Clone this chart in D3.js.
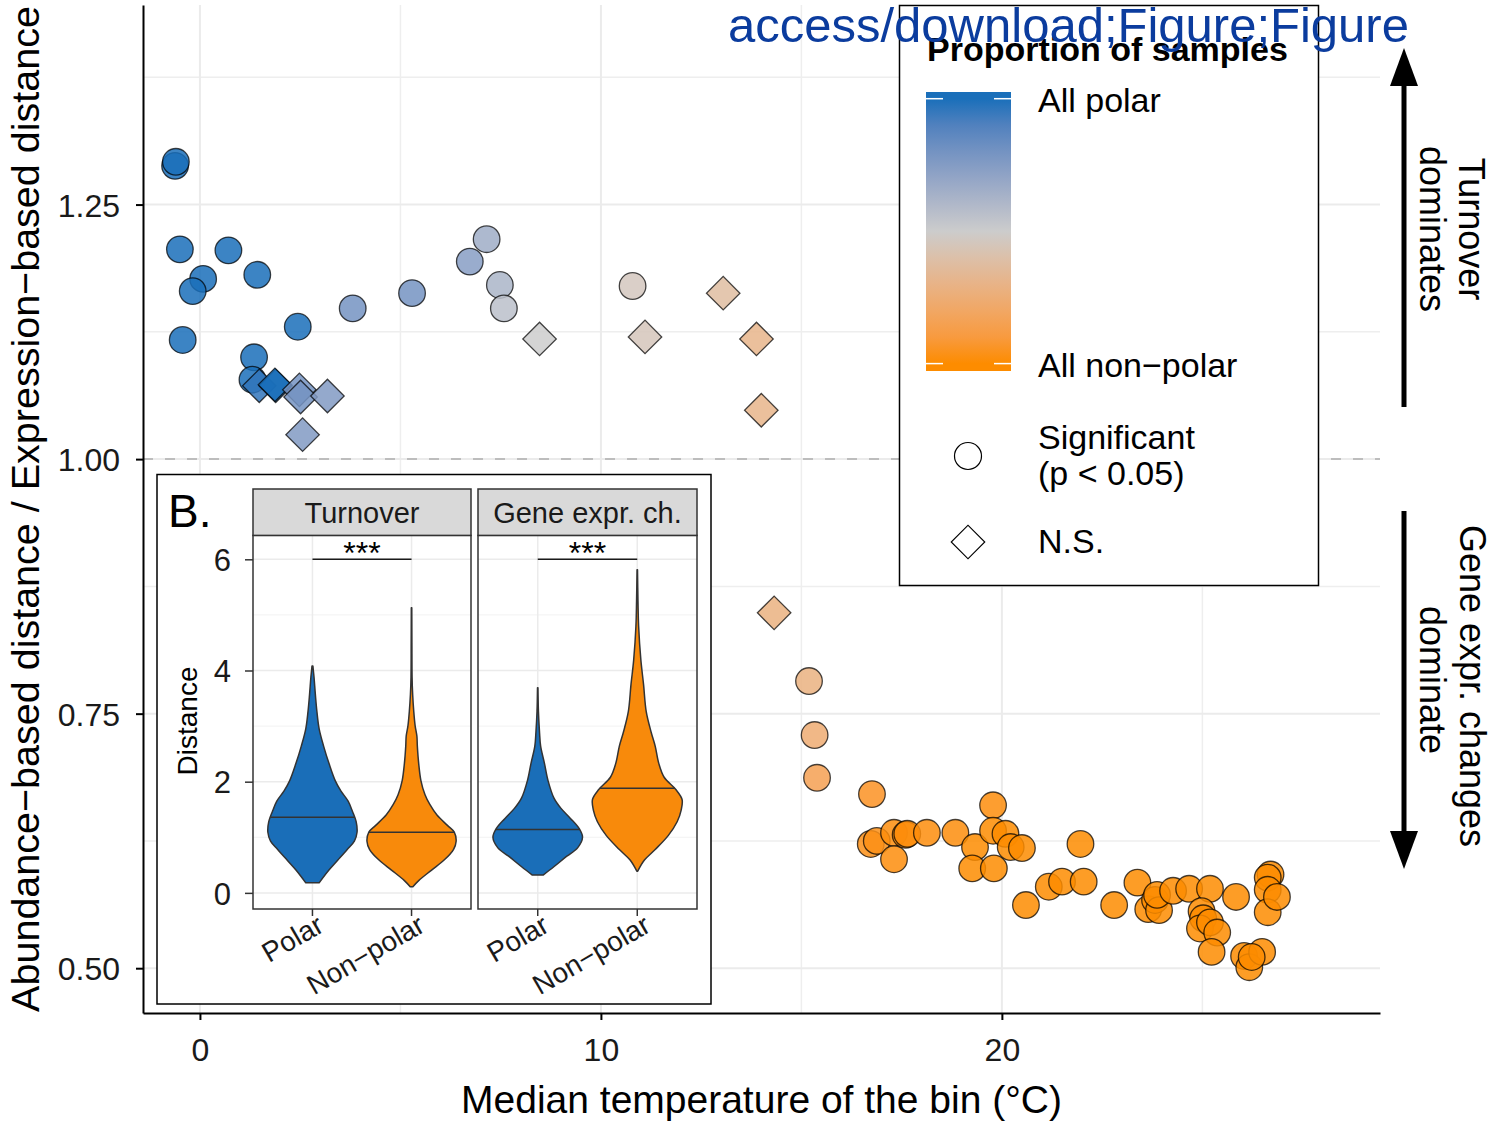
<!DOCTYPE html>
<html>
<head>
<meta charset="utf-8">
<script src="https://cdn.jsdelivr.net/npm/d3@7"></script>
<style>
  body { margin: 0; background: #fff; }
  svg { display: block; }
  text { font-family: "Liberation Sans", Arial, Helvetica, sans-serif; }
</style>
</head>
<body>
<svg id="chart" width="1501" height="1126"></svg>
<script>
// ---- Main panel: one point per temperature bin ----
const temperature = [
  -0.62, -0.60, -0.50, 0.71, 1.43, 0.08, -0.18, -0.43, 2.44, 1.35, 1.31,
  1.48, 1.89, 1.87, 2.48, 2.51, 3.18, 2.56,
  3.81, 5.29, 7.15, 6.73, 7.48, 7.58, 8.47, 10.79, 13.05, 11.10, 13.88, 14.00, 14.32,
  15.19, 15.33, 15.39, 16.76,
  16.73, 16.88, 17.31, 17.31, 17.60, 17.64, 18.13, 18.84, 19.33, 19.26, 19.78, 19.78,
  19.80, 20.09, 20.22, 20.50, 21.96, 20.60, 21.17, 21.50, 22.04, 22.80, 23.38, 23.65,
  23.82, 23.92, 23.87, 24.27, 24.67, 25.19, 25.84, 24.98, 25.02, 24.94, 25.19, 25.37,
  25.23, 26.04, 26.17, 26.49, 26.23, 26.70, 26.63, 26.63, 26.63, 26.86
];
const distanceRatio = [
  1.288, 1.292, 1.206, 1.205, 1.181, 1.177, 1.165, 1.117, 1.130, 1.100, 1.078,
  1.072, 1.072, 1.073, 1.068, 1.061, 1.062, 1.024,
  1.148, 1.163, 1.216, 1.194, 1.171, 1.148, 1.118, 1.170, 1.163, 1.120, 1.118, 1.048, 0.849,
  0.782, 0.729, 0.687, 0.671,
  0.622, 0.625, 0.633, 0.607, 0.631, 0.632, 0.633, 0.633, 0.619, 0.598, 0.660, 0.635,
  0.598, 0.632, 0.619, 0.618, 0.622, 0.562, 0.580, 0.585, 0.585, 0.562, 0.584, 0.558,
  0.567, 0.557, 0.572, 0.576, 0.578, 0.578, 0.570, 0.556, 0.549, 0.539, 0.545, 0.535,
  0.516, 0.512, 0.501, 0.516, 0.511, 0.592, 0.589, 0.577, 0.555, 0.570
];
// share of polar samples in each bin (1 = all polar, 0 = all non-polar)
const polarFraction = [
  1.00, 1.00, 1.00, 1.00, 1.00, 1.00, 1.00, 1.00, 1.00, 1.00, 1.00,
  0.97, 1.00, 1.00, 0.80, 0.80, 0.76, 0.76,
  0.80, 0.80, 0.66, 0.74, 0.62, 0.56, 0.50, 0.46, 0.375, 0.45, 0.31, 0.31, 0.28,
  0.28, 0.24, 0.15, 0.04,
  0.02, 0.02, 0.01, 0.01, 0.01, 0.01, 0.01, 0.01, 0.00, 0.00, 0.01, 0.00,
  0.00, 0.00, 0.00, 0.00, 0.00, 0.00, 0.00, 0.00, 0.00, 0.00, 0.00, 0.00,
  0.00, 0.00, 0.00, 0.00, 0.00, 0.00, 0.00, 0.00, 0.00, 0.00, 0.00, 0.00,
  0.00, 0.00, 0.00, 0.00, 0.00, 0.00, 0.00, 0.00, 0.00, 0.00
];
// true = significant (p < 0.05), false = N.S.
const significant = [
  true, true, true, true, true, true, true, true, true, true, true,
  false, false, false, false, false, false, false,
  true, true, true, true, true, true, false, true, false, false, false, false, false,
  true, true, true, true,
  true, true, true, true, true, true, true, true, true, true, true, true,
  true, true, true, true, true, true, true, true, true, true, true, true,
  true, true, true, true, true, true, true, true, true, true, true, true,
  true, true, true, true, true, true, true, true, true, true
];
const xTicks = [0, 10, 20];
const xMinor = [5, 15, 25];
const yTicks = [0.50, 0.75, 1.00, 1.25];
const yMinor = [0.625, 0.875, 1.125, 1.375];

// ---- Inset: violin profiles as [distance, relative width] ----
const groups = ["Polar", "Non\u2212polar"];
const facets = ["Turnover", "Gene expr. ch."];
const turnoverPolar = [
  [0.18, 0.15], [0.41, 0.37], [0.59, 0.57], [0.78, 0.78], [0.93, 0.94], [1.09, 1.00],
  [1.28, 0.98], [1.46, 0.90], [1.65, 0.80], [1.83, 0.64], [2.02, 0.51], [2.33, 0.37],
  [2.64, 0.25], [2.95, 0.15], [3.26, 0.10], [3.57, 0.065], [3.88, 0.035], [4.08, 0.01]
];
const turnoverNonPolar = [
  [0.11, 0.03], [0.22, 0.16], [0.41, 0.45], [0.59, 0.73], [0.78, 0.94], [0.93, 1.00],
  [1.09, 0.96], [1.21, 0.81], [1.40, 0.57], [1.59, 0.41], [1.77, 0.30], [2.02, 0.21],
  [2.33, 0.16], [2.64, 0.13], [2.82, 0.12], [3.01, 0.08], [3.26, 0.05], [3.57, 0.025],
  [3.88, 0.012], [4.50, 0.008], [5.13, 0.005]
];
const genePolar = [
  [0.32, 0.12], [0.47, 0.36], [0.66, 0.65], [0.81, 0.89], [1.00, 1.00], [1.15, 0.93],
  [1.34, 0.73], [1.52, 0.52], [1.71, 0.36], [2.02, 0.23], [2.33, 0.15], [2.64, 0.065],
  [2.89, 0.04], [3.26, 0.016], [3.69, 0.005]
];
const geneNonPolar = [
  [0.39, 0.01], [0.59, 0.16], [0.78, 0.40], [1.03, 0.69], [1.28, 0.89], [1.49, 0.98],
  [1.68, 1.00], [1.86, 0.86], [2.08, 0.60], [2.33, 0.48], [2.64, 0.40], [2.89, 0.31],
  [3.26, 0.20], [3.75, 0.14], [4.19, 0.08], [4.80, 0.03], [5.24, 0.016], [5.81, 0.005]
];
const medians = [[1.36, 1.09], [1.14, 1.88]];
const insetTicks = [0, 2, 4, 6];
const insetMinor = [1, 3, 5];
const sigLevel = 6.0;

// ---- Drawing ----
const svg = d3.select("#chart");
const plot = { left: 143, right: 1380, top: 5, bottom: 1013 };
const x = d3.scaleLinear().domain([-1.42, 29.43]).range([plot.left, plot.right]);
const y = d3.scaleLinear().domain([0.456, 1.446]).range([plot.bottom, plot.top]);
const colour = d3.scaleLinear().domain([0, 0.5, 1]).range(["#fd8c00", "#cccccc", "#1a6fba"])
  .interpolate(d3.interpolateLab);

// grid
const grid = svg.append("g");
grid.selectAll(".gxm").data(xMinor).join("line")
  .attr("x1", d => x(d)).attr("x2", d => x(d)).attr("y1", plot.top).attr("y2", plot.bottom)
  .attr("stroke", "#eeeeee").attr("stroke-width", 1.5);
grid.selectAll(".gym").data(yMinor).join("line")
  .attr("x1", plot.left).attr("x2", plot.right).attr("y1", d => y(d)).attr("y2", d => y(d))
  .attr("stroke", "#eeeeee").attr("stroke-width", 1.5);
grid.selectAll(".gx").data(xTicks).join("line")
  .attr("x1", d => x(d)).attr("x2", d => x(d)).attr("y1", plot.top).attr("y2", plot.bottom)
  .attr("stroke", "#ebebeb").attr("stroke-width", 2);
grid.selectAll(".gy").data(yTicks).join("line")
  .attr("x1", plot.left).attr("x2", plot.right).attr("y1", d => y(d)).attr("y2", d => y(d))
  .attr("stroke", "#ebebeb").attr("stroke-width", 2);

// reference line at ratio = 1
svg.append("line")
  .attr("x1", plot.left).attr("x2", plot.right).attr("y1", y(1)).attr("y2", y(1))
  .attr("stroke", "#bdbdbd").attr("stroke-width", 2).attr("stroke-dasharray", "10,12");

// points
const pts = temperature.map((t, i) => ({ t, r: distanceRatio[i], f: polarFraction[i], s: significant[i] }));
const diamond = d3.symbol().type(d3.symbolSquare).size(560);
const ptG = svg.append("g");
pts.forEach(d => {
  const common = sel => sel.attr("fill", colour(d.f)).attr("fill-opacity", 0.85)
    .attr("stroke", "#000").attr("stroke-opacity", 0.72).attr("stroke-width", 1.3);
  if (d.s) {
    ptG.append("circle").attr("cx", x(d.t)).attr("cy", y(d.r)).attr("r", 13.3).call(common);
  } else {
    ptG.append("path").attr("d", diamond())
      .attr("transform", `translate(${x(d.t)},${y(d.r)}) rotate(45)`).call(common);
  }
});

// axes
const axFont = 32;
const yAxis = svg.append("g").attr("transform", `translate(${plot.left},0)`)
  .call(d3.axisLeft(y).tickValues(yTicks).tickFormat(d3.format(".2f")).tickSize(7).tickSizeOuter(0).tickPadding(16));
const xAxis = svg.append("g").attr("transform", `translate(0,${plot.bottom})`)
  .call(d3.axisBottom(x).tickValues(xTicks).tickFormat(d3.format("d")).tickSize(7).tickSizeOuter(0).tickPadding(18));
[yAxis, xAxis].forEach(a => {
  a.select(".domain").attr("stroke", "#000").attr("stroke-width", 2);
  a.selectAll(".tick line").attr("stroke", "#000").attr("stroke-width", 2);
  a.selectAll(".tick text").attr("font-size", axFont).attr("fill", "#1a1a1a")
    .style("font-family", '"Liberation Sans", Arial, sans-serif');
});
yAxis.selectAll(".tick text").attr("dy", "0.36em");

svg.append("text").attr("x", (plot.left + plot.right) / 2).attr("y", 1113)
  .attr("text-anchor", "middle").attr("font-size", 39).attr("fill", "#000")
  .text("Median temperature of the bin (\u00B0C)");
svg.append("text").attr("transform", "translate(39,509) rotate(-90)")
  .attr("text-anchor", "middle").attr("font-size", 39.5).attr("fill", "#000")
  .text("Abundance\u2212based distance / Expression\u2212based distance");

// direction arrows
const arrowX = 1404;
svg.append("line").attr("x1", arrowX).attr("x2", arrowX).attr("y1", 407).attr("y2", 82)
  .attr("stroke", "#000").attr("stroke-width", 5);
svg.append("path").attr("d", `M${arrowX},48 L${arrowX - 14},86 L${arrowX + 14},86 Z`).attr("fill", "#000");
svg.append("line").attr("x1", arrowX).attr("x2", arrowX).attr("y1", 511).attr("y2", 834)
  .attr("stroke", "#000").attr("stroke-width", 5);
svg.append("path").attr("d", `M${arrowX},869 L${arrowX - 14},831 L${arrowX + 14},831 Z`).attr("fill", "#000");
const sideText = (bx, cy, str) => svg.append("text")
  .attr("transform", `translate(${bx},${cy}) rotate(90)`).attr("text-anchor", "middle")
  .attr("font-size", 36).attr("fill", "#000").text(str);
sideText(1459, 229, "Turnover");
sideText(1420, 229, "dominates");
sideText(1460, 686, "Gene expr. changes");
sideText(1420, 680, "dominate");

// legend
const lg = svg.append("g");
lg.append("rect").attr("x", 899.5).attr("y", 5.5).attr("width", 419).attr("height", 580)
  .attr("fill", "#fff").attr("stroke", "#000").attr("stroke-width", 1.5);
lg.append("text").attr("x", 927).attr("y", 61).attr("font-size", 34).attr("font-weight", "bold")
  .attr("fill", "#000").text("Proportion of samples");
const grad = svg.append("defs").append("linearGradient").attr("id", "polarGrad")
  .attr("x1", 0).attr("x2", 0).attr("y1", 0).attr("y2", 1);
const barTop = 92, barBot = 371, tTop = 98.7, tBot = 363.6;
const gs = d3.scaleLinear().domain([barTop, barBot]).range([0, 1]);
// stops run top (all polar) to bottom (all non-polar)
d3.range(10, -1, -1).map(k => k / 10).forEach(f => {
  const py = tBot - (tBot - tTop) * f;
  grad.append("stop").attr("offset", gs(py)).attr("stop-color", colour(f));
});
lg.append("rect").attr("x", 926).attr("y", barTop).attr("width", 85).attr("height", barBot - barTop)
  .attr("fill", "url(#polarGrad)");
[tTop, tBot].forEach(py => {
  lg.append("line").attr("x1", 926).attr("x2", 943).attr("y1", py).attr("y2", py)
    .attr("stroke", "#fff").attr("stroke-width", 1.5);
  lg.append("line").attr("x1", 994).attr("x2", 1011).attr("y1", py).attr("y2", py)
    .attr("stroke", "#fff").attr("stroke-width", 1.5);
});
const lgText = (yy, str) => lg.append("text").attr("x", 1038).attr("y", yy)
  .attr("font-size", 34).attr("fill", "#000").text(str);
lgText(112, "All polar");
lgText(377, "All non\u2212polar");
lgText(449, "Significant");
lgText(485, "(p < 0.05)");
lgText(553, "N.S.");
lg.append("circle").attr("cx", 968).attr("cy", 456).attr("r", 13.5)
  .attr("fill", "#fff").attr("stroke", "#000").attr("stroke-width", 1.2);
lg.append("path").attr("d", diamond()).attr("transform", "translate(968,542) rotate(45)")
  .attr("fill", "#fff").attr("stroke", "#000").attr("stroke-width", 1.2);

// ---- Inset B ----
const ins = svg.append("g");
ins.append("rect").attr("x", 157).attr("y", 474.5).attr("width", 554).attr("height", 529.5)
  .attr("fill", "#fff").attr("stroke", "#000").attr("stroke-width", 1.5);
ins.append("text").attr("x", 168).attr("y", 527).attr("font-size", 46).attr("fill", "#000").text("B.");

const iy = d3.scaleLinear().domain([-0.29, 6.43]).range([909, 535.4]);
const facetBox = [[253, 471], [478, 697]];
const profiles = [[turnoverPolar, turnoverNonPolar], [genePolar, geneNonPolar]];
const fills = ["#1a6eb8", "#f88a0b"];

facetBox.forEach(([x0, x1], fi) => {
  const ix = d3.scalePoint().domain(groups).range([x0, x1]).padding(0.6);
  const step = ix.step();
  const g = ins.append("g");
  // grid
  g.selectAll(".mn").data(insetMinor).join("line")
    .attr("x1", x0).attr("x2", x1).attr("y1", d => iy(d)).attr("y2", d => iy(d))
    .attr("stroke", "#f2f2f2").attr("stroke-width", 1);
  g.selectAll(".mj").data(insetTicks).join("line")
    .attr("x1", x0).attr("x2", x1).attr("y1", d => iy(d)).attr("y2", d => iy(d))
    .attr("stroke", "#ebebeb").attr("stroke-width", 1.5);
  g.selectAll(".vx").data(groups).join("line")
    .attr("x1", d => ix(d)).attr("x2", d => ix(d)).attr("y1", 535.4).attr("y2", 909)
    .attr("stroke", "#ebebeb").attr("stroke-width", 1.5);

  // violins
  groups.forEach((grp, gi) => {
    const prof = profiles[fi][gi];
    const cx = ix(grp);
    const hw = w => w * 0.45 * step;
    const area = d3.area().curve(d3.curveCatmullRom.alpha(0.5))
      .y(d => iy(d[0])).x0(d => cx - hw(d[1])).x1(d => cx + hw(d[1]));
    g.append("path").attr("d", area(prof)).attr("fill", fills[gi])
      .attr("stroke", "#333").attr("stroke-width", 1.5).attr("stroke-linejoin", "round");
    // median line
    const m = medians[fi][gi];
    const k = prof.findIndex(p => p[0] >= m);
    const a = prof[k - 1], b = prof[k];
    const wm = a[1] + (b[1] - a[1]) * (m - a[0]) / (b[0] - a[0]);
    g.append("line").attr("x1", cx - hw(wm)).attr("x2", cx + hw(wm))
      .attr("y1", iy(m)).attr("y2", iy(m)).attr("stroke", "#333").attr("stroke-width", 1.5);
    // x tick + label
    g.append("line").attr("x1", cx).attr("x2", cx).attr("y1", 909).attr("y2", 916)
      .attr("stroke", "#333").attr("stroke-width", 1.5);
    g.append("text").attr("transform", `translate(${cx + (gi ? 5 : 3)},913) rotate(-30)`)
      .attr("text-anchor", "end").attr("dy", "0.72em").attr("font-size", 28)
      .attr("fill", "#1a1a1a").text(grp);
  });

  // significance bracket
  g.append("line").attr("x1", ix(groups[0])).attr("x2", ix(groups[1]))
    .attr("y1", iy(sigLevel)).attr("y2", iy(sigLevel)).attr("stroke", "#1a1a1a").attr("stroke-width", 1.5);
  g.append("text").attr("x", (ix(groups[0]) + ix(groups[1])) / 2).attr("y", iy(sigLevel) + 5)
    .attr("text-anchor", "middle").attr("font-size", 32).attr("fill", "#000").text("***");

  // panel border and strip
  g.append("rect").attr("x", x0).attr("y", 535.4).attr("width", x1 - x0).attr("height", 909 - 535.4)
    .attr("fill", "none").attr("stroke", "#333").attr("stroke-width", 1.5);
  g.append("rect").attr("x", x0).attr("y", 489).attr("width", x1 - x0).attr("height", 46.4)
    .attr("fill", "#d9d9d9").attr("stroke", "#333").attr("stroke-width", 1.5);
  g.append("text").attr("x", (x0 + x1) / 2).attr("y", 523).attr("text-anchor", "middle")
    .attr("font-size", 29).attr("fill", "#1a1a1a").text(facets[fi]);
});

// inset y axis
const iax = ins.append("g").attr("transform", "translate(253,0)")
  .call(d3.axisLeft(iy).tickValues(insetTicks).tickFormat(d3.format("d")).tickSize(8).tickSizeOuter(0).tickPadding(14));
iax.select(".domain").remove();
iax.selectAll(".tick line").attr("stroke", "#333").attr("stroke-width", 1.5);
iax.selectAll(".tick text").attr("font-size", 31).attr("fill", "#1a1a1a").attr("dy", "0.36em")
  .style("font-family", '"Liberation Sans", Arial, sans-serif');
ins.append("text").attr("transform", "translate(197,721) rotate(-90)").attr("text-anchor", "middle")
  .attr("font-size", 28).attr("fill", "#000").text("Distance");

// overlay stamp
svg.append("text").attr("x", 728).attr("y", 42).attr("font-size", 49).attr("fill", "#0b3c9e")
  .text("access/download;Figure;Figure");
</script>
</body>
</html>
